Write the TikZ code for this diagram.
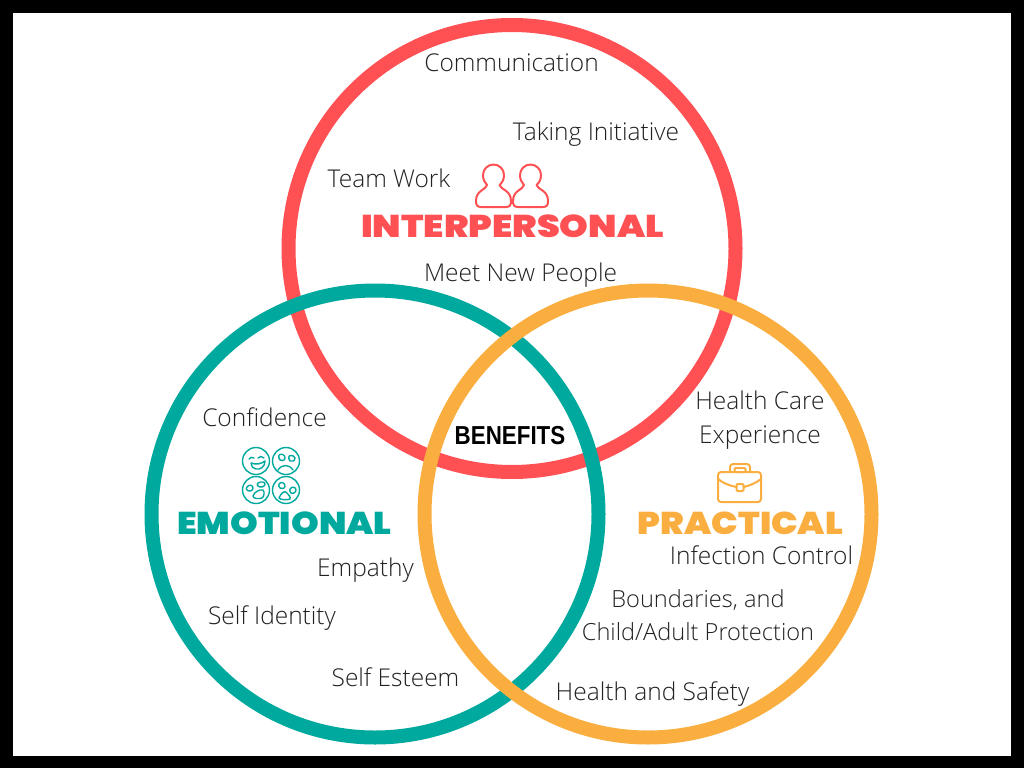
\documentclass[tikz,border=0pt]{standalone}
\usepackage{fontspec}
\usepackage{tikz}
\setmainfont{Open Sans Light}
\newfontfamily\headfont[FakeStretch=1.12]{Poppins Black}
\newfontfamily\headwidefont[FakeStretch=1.16]{Poppins Black}
\newfontfamily\benefitfont[FakeStretch=0.86]{Liberation Sans Bold}
\definecolor{ringred}{HTML}{FF5053}
\definecolor{ringteal}{HTML}{00A99D}
\definecolor{ringorange}{HTML}{FBAE40}
\definecolor{inkgray}{HTML}{222222}

\begin{document}
\begin{tikzpicture}[x=1pt,y=-1pt,
		ring/.style={circle,draw=#1,line width=14pt,minimum size=447pt,inner sep=0pt},
		skill/.style={text=inkgray,font=\fontsize{24.5}{33.5}\selectfont,align=center,inner sep=0pt},
		heading/.style={text=#1,font=\headfont\fontsize{31.5}{32}\selectfont,inner sep=0pt},
		icon/.style={draw=#1,line width=2pt,line join=round,line cap=round}]
		\useasboundingbox (0,0) rectangle (1024,768);
		\fill[black] (0,0) rectangle (1024,768);
		\fill[white] (13,13) rectangle (1011,756);

		\node[ring=ringred] (interpersonal) at (512,248.5) {};
		\node[ring=ringteal] (emotional) at (375,514) {};
		\node[ring=ringorange] (practical) at (648,514) {};

		\node[font=\benefitfont\fontsize{26}{26}\selectfont,inner sep=0pt] (benefits) at (510,436) {BENEFITS};

		\node[heading=ringred,font=\headwidefont\fontsize{31.5}{32}\selectfont] (interpersonalhead) at (512.5,226) {INTERPERSONAL};
		\node[heading=ringteal] (emotionalhead) at (284.5,523) {EMOTIONAL};
		\node[heading=ringorange] (practicalhead) at (740.5,523) {PRACTICAL};

		\node[skill] (communication) at (511.5,63) {Communication};
		\node[skill] (initiative) at (596,134) {Taking Initiative};
		\node[skill] (teamwork) at (389,178) {Team Work};
		\node[skill] (meetpeople) at (520.5,275) {Meet New People};
		\node[skill] (confidence) at (264.5,417) {Confidence};
		\node[skill] (empathy) at (365.5,570) {Empathy};
		\node[skill] (identity) at (272,618) {Self Identity};
		\node[skill] (esteem) at (395.5,677) {Self Esteem};
		\node[skill] (healthcare) at (760,420) {Health Care\\Experience};
		\node[skill] (infection) at (761.5,555) {Infection Control};
		\node[skill,font=\fontsize{23.6}{33}\selectfont] (boundaries) at (698,615) {Boundaries, and\\Child/Adult Protection};
		\node[skill] (safety) at (652.5,694) {Health and Safety};

		% people
		\foreach \dx in {0,37} {
			\begin{scope}[xshift=\dx pt]
				\draw[icon=ringred] (487,185) .. controls (484.5,182.5) and (483,179) .. (483,175)
					.. controls (483,169) and (488,164.5) .. (493.5,164.5)
					.. controls (499,164.5) and (504,169) .. (504,175)
					.. controls (504,179) and (502.5,182.5) .. (499.5,185)
					.. controls (501,190) and (511,190) .. (511,201)
					.. controls (511,205) and (510,207) .. (506,207) -- (481,207)
					.. controls (477,207) and (476,205) .. (476,201)
					.. controls (476,190) and (486,190) .. (487,185) -- cycle;
			\end{scope}
		}

		% faces
		\foreach \fx/\fy in {256/461,286/461,256/490,286/490}
			\draw[icon=ringteal,line width=1.4pt] (\fx,\fy) circle[radius=13.5];
		\draw[icon=ringteal,line width=1.4pt] (249,459) .. controls (250,457) and (252,457) .. (254,458);
		\draw[icon=ringteal,line width=1.4pt] (258,458) .. controls (260,456) and (262,456) .. (264,458);
		\draw[icon=ringteal,line width=1.4pt] (251,463) .. controls (256,465) and (261,464) .. (265,461)
			.. controls (265,467) and (260,470) .. (256,469) .. controls (253,469) and (251,466) .. (251,463);
		\draw[icon=ringteal,line width=1.4pt] (279,455) .. controls (282,453) and (285,455) .. (285,458)
			.. controls (285,461) and (281,461) .. (280,460) .. controls (279,459) and (278,456) .. (279,455);
		\draw[icon=ringteal,line width=1.4pt] (289,456) .. controls (292,455) and (295,456) .. (295,458)
			.. controls (295,461) and (292,462) .. (290,461) .. controls (289,460) and (288,457) .. (289,456);
		\draw[icon=ringteal,line width=1.4pt] (278,470) .. controls (282,464) and (289,464) .. (293,470);
		\draw[icon=ringteal,line width=1.4pt] (247,487) .. controls (249,484) and (253,485) .. (253,488)
			.. controls (253,491) and (249,492) .. (247,490) .. controls (246,489) and (246,488) .. (247,487);
		\draw[icon=ringteal,line width=1.4pt] (258,483) .. controls (261,481) and (265,482) .. (265,484)
			.. controls (265,487) and (260,488) .. (258,486) .. controls (257,485) and (257,484) .. (258,483);
		\draw[icon=ringteal,line width=1.4pt] (253,496) .. controls (254,492) and (260,489) .. (263,490)
			.. controls (265,492) and (264,497) .. (262,498) .. controls (259,499) and (253,499) .. (253,496);
		\draw[icon=ringteal,line width=1.4pt] (279,484) .. controls (281,481) and (285,483) .. (285,486)
			.. controls (285,489) and (281,489) .. (280,488) .. controls (279,487) and (278,485) .. (279,484);
		\draw[icon=ringteal,line width=1.4pt] (290,489) .. controls (292,486) and (296,487) .. (296,490)
			.. controls (296,493) and (292,494) .. (291,493) .. controls (290,492) and (289,490) .. (290,489);
		\draw[icon=ringteal,line width=1.4pt] (279,498) .. controls (281,493) and (284,491) .. (286,492)
			.. controls (288,494) and (291,497) .. (290,499) .. controls (288,500) and (280,500) .. (279,498);

		% briefcase
		\draw[icon=ringorange,rounded corners=3pt] (718,472) rectangle (761,502);
		\draw[icon=ringorange,rounded corners=3pt] (730,472) -- (730,464) -- (750,464) -- (750,472);
		\draw[icon=ringorange,rounded corners=1pt] (734.5,468) rectangle (745.5,472);
		\draw[icon=ringorange] (718,479) .. controls (723,483) and (730,486) .. (736.5,487);
		\draw[icon=ringorange] (761,479) .. controls (756,483) and (749,486) .. (743.5,487);
		\draw[icon=ringorange,rounded corners=1pt] (736.5,484) rectangle (743.5,491);
	\end{tikzpicture}
\end{document}
